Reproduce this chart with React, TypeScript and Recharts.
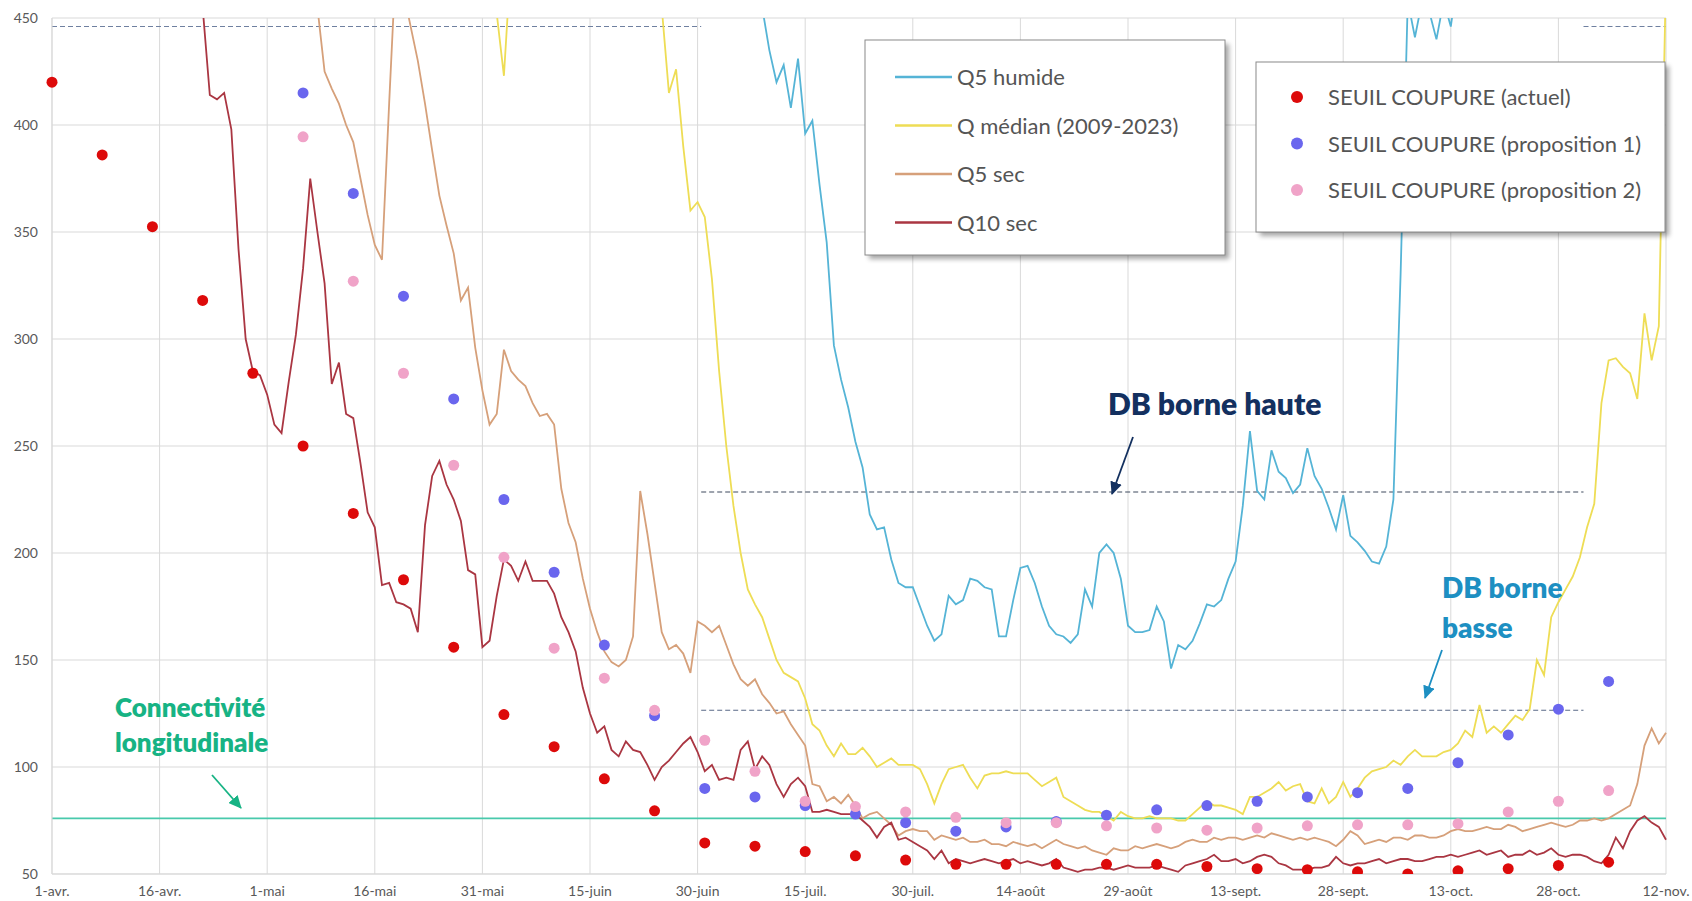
import React from "react";
import {
  ComposedChart,
  Line,
  Scatter,
  XAxis,
  YAxis,
  CartesianGrid,
  ReferenceLine,
} from "recharts";

// x axis: day index from 1 April, one label every 15 days
const tickDays = [0, 15, 30, 45, 60, 75, 90, 105, 120, 135, 150, 165, 180, 195, 210, 225];
const tickLabels = [
  "1-avr.", "16-avr.", "1-mai", "16-mai", "31-mai", "15-juin", "30-juin", "15-juil.",
  "30-juil.", "14-août", "29-août", "13-sept.", "28-sept.", "13-oct.", "28-oct.", "12-nov.",
];
const yTicks = [50, 100, 150, 200, 250, 300, 350, 400, 450];

// daily flows; each series starts on the first day it shows in the plot
const q5HumideStart = 99;
const q5Humide = [
  455, 435,
  420, 428, 408, 431, 396, 402, 372, 345, 297, 281,
  268, 252, 240, 218, 211, 212, 197, 186, 184, 184,
  175, 166, 159, 162, 180, 176, 178, 188, 187, 184,
  183, 161, 161, 178, 193, 194, 186, 175, 166, 162,
  161, 158, 162, 183, 175, 200, 204, 200, 188, 166,
  163, 163, 164, 175, 168, 146, 157, 155, 159, 167,
  176, 175, 178, 188, 196, 222, 257, 229, 225, 248,
  238, 235, 228, 232, 249, 236, 230, 221, 211, 227,
  208, 205, 201, 196, 195, 203, 225, 330, 458, 441,
  458, 453, 440, 458, 446, 470,
];

const qMedianStart = 62;
const qMedian = [
  452, 423, 478,
  null, null, null, null, null, null, null, null, null, null,
  null, null, null, null, null, null, null, null, null, null,
  455, 415, 426, 390, 360, 364,
  357, 328, 285, 250, 222, 200, 183, 176, 170, 160,
  150, 144, 142, 140, 132, 120, 117, 110, 105, 111,
  106, 106, 109, 105, 100, 102, 104, 101, 101, 101,
  99, 92, 83, 92, 99, 100, 101, 95, 90, 96,
  97, 97, 98, 97, 97, 97, 94, 91, 93, 95,
  86, 84, 82, 80, 79, 79, 77, 75, 79, 77,
  76, 76, 77, 76, 76, 76, 75, 75, 78, 81,
  84, 82, 82, 81, 80, 78, 86, 86, 88, 90,
  93, 89, 91, 92, 84, 83, 90, 83, 86, 93,
  86, 90, 95, 98, 99, 100, 103, 101, 105, 108,
  105, 105, 105, 107, 108, 111, 117, 114, 129, 116,
  119, 116, 120, 124, 122, 127, 150, 143, 170, 177,
  183, 189, 198, 212, 223, 270, 290, 291, 287, 284,
  272, 312, 290, 306, 470,
];

const q5SecStart = 37;
const q5Sec = [
  455, 425, 417, 410,
  400, 392, 375, 358, 344, 337, 410, 480, 462, 446,
  430, 410, 388, 367, 353, 340, 318, 324, 296, 276,
  260, 265, 295, 285, 281, 278, 270, 264, 265, 260,
  230, 214, 205, 188, 174, 163, 154, 149, 147, 150,
  161, 229, 209, 186, 163, 155, 157, 153, 144, 168,
  166, 163, 166, 157, 148, 141, 138, 141, 134, 130,
  125, 126, 120, 115, 110, 92, 91, 84, 86, 83,
  87, 82, 76, 78, 79, 76, 73, 68, 70, 71,
  70, 70, 66, 68, 67, 66, 67, 65, 65, 66,
  64, 64, 63, 65, 64, 63, 64, 62, 64, 66,
  64, 63, 62, 63, 61, 60, 59, 62, 61, 61,
  63, 62, 63, 64, 63, 62, 63, 65, 66, 65,
  65, 67, 66, 67, 67, 66, 67, 68, 67, 69,
  68, 67, 66, 67, 66, 67, 66, 65, 63, 66,
  70, 68, 64, 65, 66, 65, 67, 67, 66, 68,
  68, 67, 67, 68, 70, 71, 70, 70, 71, 72,
  71, 71, 73, 72, 70, 71, 72, 73, 74, 73,
  72, 73, 75, 75, 76, 75, 76, 78, 80, 82,
  92, 110, 118, 111, 116,
];

const q10SecStart = 21;
const q10Sec = [
  455, 414, 412, 415, 398, 342, 300, 285, 283, 274,
  260, 256, 280, 302, 333, 375, 350, 326, 279, 289,
  265, 263, 242, 219, 212, 185, 186, 177, 176, 174,
  163, 213, 236, 243, 232, 225, 215, 192, 190, 156,
  159, 180, 197, 194, 187, 196, 187, 187, 187, 181,
  170, 163, 154, 137, 125, 116, 119, 108, 105, 112,
  108, 107, 101, 94, 100, 103, 107, 111, 114, 107,
  98, 101, 94, 95, 94, 108, 112, 99, 105, 101,
  92, 86, 92, 95, 91, 79, 79, 80, 79, 78,
  78, 78, 75, 72, 67, 72, 74, 66, 67, 65,
  63, 61, 57, 61, 55, 57, 56, 55, 56, 57,
  56, 55, 56, 57, 55, 56, 55, 54, 55, 57,
  53, 52, 51, 52, 52, 53, 53, 52, 53, 54,
  53, 53, 53, 54, 53, 52, 51, 54, 55, 56,
  57, 59, 56, 56, 57, 55, 56, 58, 59, 58,
  55, 54, 52, 52, 52, 53, 53, 54, 58, 55,
  54, 55, 55, 56, 57, 55, 56, 57, 57, 56,
  56, 57, 58, 58, 59, 58, 59, 60, 61, 59,
  60, 61, 58, 59, 59, 61, 59, 60, 62, 59,
  58, 59, 59, 58, 56, 55, 59, 67, 62, 70,
  75, 77, 74, 72, 66,
];

// weekly cut-off thresholds
const weeklyDays = [
  0, 7, 14, 21, 28, 35, 42, 49, 56, 63, 70, 77, 84, 91, 98, 105,
  112, 119, 126, 133, 140, 147, 154, 161, 168, 175, 182, 189, 196, 203, 210, 217,
];
const seuilActuel = [
  420, 386, 352.5, 318, 284, 250, 218.5, 187.5, 156, 124.5, 109.5, 94.5, 79.5, 64.5, 63, 60.5,
  58.5, 56.5, 54.5, 54.5, 54.5, 54.5, 54.5, 53.5, 52.5, 52, 51, 50, 51.5, 52.5, 54, 55.5,
];
const seuilPropStart = 5; // proposals begin at day 35
const seuilProp1 = [
  415, 368, 320, 272, 225, 191, 157, 124, 90, 86, 82,
  78, 74, 70, 72, 74.5, 77.5, 80, 82, 84, 86, 88, 90, 102, 115, 127, 140,
];
const seuilProp2 = [
  394.5, 327, 284, 241, 198, 155.5, 141.5, 126.5, 112.5, 98, 84,
  81.5, 79, 76.5, 74, 74, 72.5, 71.5, 70.5, 71.5, 72.5, 73, 73, 73.5, 79, 84, 89,
];

// reference levels
const connectivite = 76;
const dbHaute = 228.5;
const dbBasse = 126.5;
const dbHorsEtiage = 446;
const etiageDebut = 90.5;
const etiageFin = 213.5;

const C_HUMIDE = "#55b4d6";
const C_MEDIAN = "#eedd55";
const C_SEC5 = "#d6a07a";
const C_SEC10 = "#aa3642";
const C_ACTUEL = "#dd0a0a";
const C_PROP1 = "#6a66ee";
const C_PROP2 = "#f0a3c8";

const pick = (arr: (number | null)[], start: number, d: number) => {
  const v = arr[d - start];
  return v === undefined ? null : v;
};

const days = Array.from({ length: 226 }, (_, i) => i);
const lineData = days.map((d) => ({
  day: d,
  humide: pick(q5Humide, q5HumideStart, d),
  median: pick(qMedian, qMedianStart, d),
  sec5: pick(q5Sec, q5SecStart, d),
  sec10: pick(q10Sec, q10SecStart, d),
}));

const actuelData = weeklyDays.map((d, i) => ({ day: d, v: seuilActuel[i] }));
const prop1Data = weeklyDays.slice(seuilPropStart).map((d, i) => ({ day: d, v: seuilProp1[i] }));
const prop2Data = weeklyDays.slice(seuilPropStart).map((d, i) => ({ day: d, v: seuilProp2[i] }));

const lineLegend = [
  { name: "Q5 humide", color: C_HUMIDE },
  { name: "Q médian (2009-2023)", color: C_MEDIAN },
  { name: "Q5 sec", color: C_SEC5 },
  { name: "Q10 sec", color: C_SEC10 },
];
const dotLegend = [
  { name: "SEUIL COUPURE (actuel)", color: C_ACTUEL },
  { name: "SEUIL COUPURE (proposition 1)", color: C_PROP1 },
  { name: "SEUIL COUPURE (proposition 2)", color: C_PROP2 },
];

const dot = (color: string) => (p: any) => <circle cx={p.cx} cy={p.cy} r={5.5} fill={color} />;

const tickStyle = { fill: "#595959", fontSize: 14, fontFamily: "Lato, sans-serif" };
const legendFont = "Lato, sans-serif";
const annFont = "Lato, sans-serif";

const Overlay = () => (
  <svg
    width={1692}
    height={901}
    style={{ position: "absolute", left: 0, top: 0, pointerEvents: "none" }}
  >
    <defs>
      <filter id="sh" x="-10%" y="-10%" width="130%" height="130%">
        <feGaussianBlur stdDeviation="2.5" />
      </filter>
      {[
        ["arG", "#17b384"],
        ["arN", "#13305f"],
        ["arB", "#1d8fc2"],
      ].map(([id, c]) => (
        <marker key={id} id={id} markerWidth={14} markerHeight={12} refX={12} refY={6} orient="auto" markerUnits="userSpaceOnUse">
          <path d="M0,0 L13,6 L0,12 z" fill={c} />
        </marker>
      ))}
    </defs>

    {/* legend: lines */}
    <rect x={869} y={44} width={360} height={215} fill="#000" opacity={0.35} filter="url(#sh)" />
    <rect x={865} y={40} width={360} height={215} fill="#fff" stroke="#8a8a8a" strokeWidth={1} />
    {lineLegend.map((e, i) => (
      <g key={e.name}>
        <line x1={895} x2={952} y1={77 + i * 48.5} y2={77 + i * 48.5} stroke={e.color} strokeWidth={2.5} />
        <text x={957} y={77 + i * 48.5 + 8} fontSize={22} fill="#555" fontFamily={legendFont}>
          {e.name}
        </text>
      </g>
    ))}

    {/* legend: thresholds */}
    <rect x={1260} y={66} width={409} height={170} fill="#000" opacity={0.35} filter="url(#sh)" />
    <rect x={1256} y={62} width={409} height={170} fill="#fff" stroke="#8a8a8a" strokeWidth={1} />
    {dotLegend.map((e, i) => (
      <g key={e.name}>
        <circle cx={1297} cy={97 + i * 46.5} r={6} fill={e.color} />
        <text x={1328} y={97 + i * 46.5 + 8} fontSize={22} fill="#555" fontFamily={legendFont}>
          {e.name}
        </text>
      </g>
    ))}

    {/* annotations */}
    <text x={115} y={717} fontSize={26} fontWeight={800} fill="#17b384" fontFamily={annFont}>
      Connectivité
    </text>
    <text x={115} y={752} fontSize={26} fontWeight={800} fill="#17b384" fontFamily={annFont}>
      longitudinale
    </text>
    <line x1={212} y1={775} x2={241} y2={808} stroke="#17b384" strokeWidth={1.8} markerEnd="url(#arG)" />

    <text x={1108} y={415} fontSize={30} fontWeight={800} fill="#13305f" fontFamily={annFont}>
      DB borne haute
    </text>
    <line x1={1133} y1={437} x2={1112} y2={494} stroke="#13305f" strokeWidth={1.8} markerEnd="url(#arN)" />

    <text x={1442} y={598} fontSize={28} fontWeight={800} fill="#1d8fc2" fontFamily={annFont}>
      DB borne
    </text>
    <text x={1442} y={638} fontSize={28} fontWeight={800} fill="#1d8fc2" fontFamily={annFont}>
      basse
    </text>
    <line x1={1442} y1={650} x2={1425} y2={698} stroke="#1d8fc2" strokeWidth={1.8} markerEnd="url(#arB)" />
  </svg>
);

export default function App() {
  return (
    <div style={{ position: "absolute", left: 0, top: 0, width: 1692, height: 901, background: "#fff" }}>
      <ComposedChart
        width={1692}
        height={901}
        data={lineData}
        margin={{ top: 18, right: 26, bottom: 0, left: 0 }}
      >
        <CartesianGrid stroke="#d9d9d9" />
        <XAxis
          type="number"
          dataKey="day"
          domain={[0, 225]}
          ticks={tickDays}
          interval={0}
          tickFormatter={(d: number) => tickLabels[tickDays.indexOf(d)]}
          tickLine={false}
          tickMargin={6}
          axisLine={{ stroke: "#d9d9d9" }}
          tick={tickStyle}
          height={27}
        />
        <YAxis
          type="number"
          domain={[50, 450]}
          ticks={yTicks}
          interval={0}
          allowDataOverflow
          tickLine={false}
          tickMargin={8}
          axisLine={{ stroke: "#d9d9d9" }}
          tick={tickStyle}
          width={52}
        />

        <ReferenceLine y={connectivite} stroke="#49c9ac" strokeWidth={1.6} />
        <ReferenceLine
          segment={[{ x: 0, y: dbHorsEtiage }, { x: etiageDebut, y: dbHorsEtiage }]}
          stroke="#6f80a0"
          strokeDasharray="5 3"
          strokeWidth={1.1}
        />
        <ReferenceLine
          segment={[{ x: etiageFin, y: dbHorsEtiage }, { x: 225, y: dbHorsEtiage }]}
          stroke="#6f80a0"
          strokeDasharray="5 3"
          strokeWidth={1.1}
        />
        <ReferenceLine
          segment={[{ x: etiageDebut, y: dbHaute }, { x: etiageFin, y: dbHaute }]}
          stroke="#3f4a5e"
          strokeDasharray="5 3"
          strokeWidth={1.2}
        />
        <ReferenceLine
          segment={[{ x: etiageDebut, y: dbBasse }, { x: etiageFin, y: dbBasse }]}
          stroke="#5a6a88"
          strokeDasharray="5 3"
          strokeWidth={1.1}
        />

        <Line dataKey="humide" stroke={C_HUMIDE} strokeWidth={1.8} dot={false} isAnimationActive={false} />
        <Line dataKey="median" stroke={C_MEDIAN} strokeWidth={1.8} dot={false} isAnimationActive={false} />
        <Line dataKey="sec5" stroke={C_SEC5} strokeWidth={1.8} dot={false} isAnimationActive={false} />
        <Line dataKey="sec10" stroke={C_SEC10} strokeWidth={1.8} dot={false} isAnimationActive={false} />

        <Scatter data={actuelData} dataKey="v" shape={dot(C_ACTUEL)} isAnimationActive={false} />
        <Scatter data={prop1Data} dataKey="v" shape={dot(C_PROP1)} isAnimationActive={false} />
        <Scatter data={prop2Data} dataKey="v" shape={dot(C_PROP2)} isAnimationActive={false} />
      </ComposedChart>
      <Overlay />
    </div>
  );
}
